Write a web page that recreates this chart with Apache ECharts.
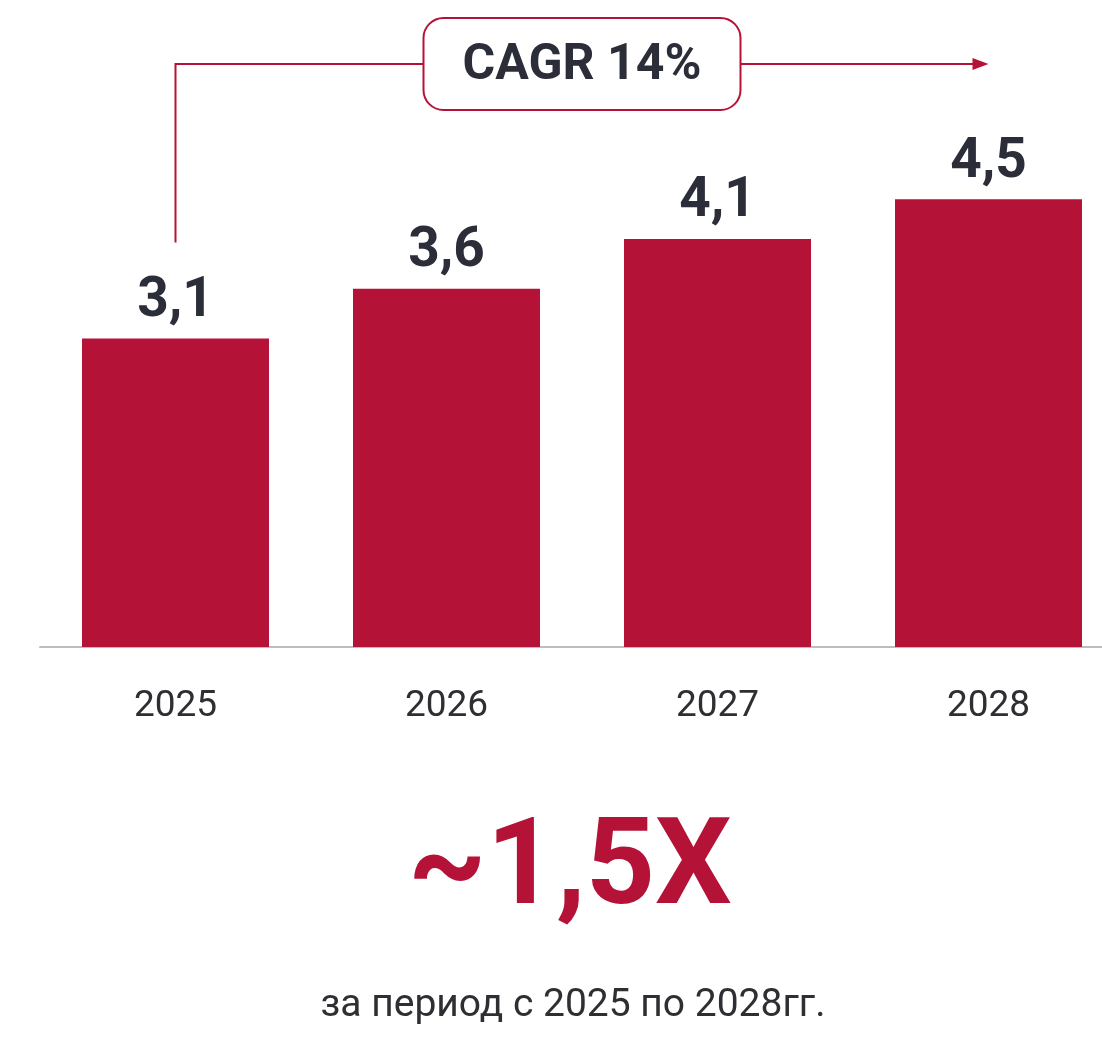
<!DOCTYPE html>
<html>
<head>
<meta charset="utf-8">
<script src="https://cdn.jsdelivr.net/npm/echarts@6/dist/echarts.min.js"></script>
<style>
  html, body { margin: 0; padding: 0; background: #fff; }
  #chart { width: 1102px; height: 1037px; }
</style>
</head>
<body>
<div id="chart"></div>
<script>
var years = ["2025", "2026", "2027", "2028"];
var values = [3.1, 3.6, 4.1, 4.5];
var cagrText = "CAGR 14%";
var bigText = "~1,5X";
var subText = "за период с 2025 по 2028гг.";

var red = "#b51237";
var dark = "#2b2e38";

var chart = echarts.init(document.getElementById("chart"), null, { renderer: "canvas" });

var option = {
  backgroundColor: "#fff",
  animation: false,
  grid: { left: 40, top: 50, width: 1084, height: 597, outerBoundsMode: "none", containLabel: false },
  xAxis: {
    type: "category",
    data: years,
    axisLine: { lineStyle: { color: "#bdbdbd", width: 2 } },
    axisTick: { show: false },
    axisLabel: {
      margin: 41,
      color: "#2e2e33",
      fontFamily: "Roboto",
      fontSize: 37
    }
  },
  yAxis: { type: "value", min: 0, max: 6, show: false, splitLine: { show: false } },
  series: [
    {
      type: "bar",
      data: values,
      barWidth: 187,
      itemStyle: { color: red },
      label: {
        show: true,
        position: "top",
        distance: 9,
        color: dark,
        fontFamily: "Roboto",
        fontWeight: "bold",
        fontSize: 55,
        formatter: function (p) { return String(p.value).replace(".", ","); }
      }
    }
  ]
};
chart.setOption(option);

// аннотация CAGR: линия от первого столбца к последнему
var p0 = chart.convertToPixel({ seriesIndex: 0 }, [years[0], values[0]]);
var p3 = chart.convertToPixel({ seriesIndex: 0 }, [years[3], values[3]]);
var lineY = 64;
var boxW = 317, boxH = 92;
var cx = (p0[0] + p3[0]) / 2;
var boxL = cx - boxW / 2, boxR = cx + boxW / 2;

chart.setOption({
  graphic: [
    {
      type: "polyline",
      shape: { points: [[p0[0], p0[1] - 96], [p0[0], lineY], [boxL, lineY]] },
      style: { stroke: red, lineWidth: 2, fill: null }
    },
    {
      type: "line",
      shape: { x1: boxR, y1: lineY, x2: p3[0] - 14, y2: lineY },
      style: { stroke: red, lineWidth: 2 }
    },
    {
      type: "polygon",
      shape: { points: [[p3[0] - 16, lineY - 6], [p3[0], lineY], [p3[0] - 16, lineY + 6]] },
      style: { fill: red }
    },
    {
      type: "rect",
      shape: { x: boxL, y: lineY - boxH / 2, width: boxW, height: boxH, r: 20 },
      style: { fill: "#fff", stroke: red, lineWidth: 2 }
    },
    {
      type: "text",
      x: cx, y: lineY + 2,
      style: {
        text: cagrText, fill: dark, font: "bold 50px Roboto",
        align: "center", verticalAlign: "middle"
      }
    },
    {
      type: "text",
      x: 570, y: 873,
      style: {
        text: bigText, fill: red, font: "bold 121px Roboto",
        align: "center", verticalAlign: "middle"
      }
    },
    {
      type: "text",
      x: 573, y: 1006,
      style: {
        text: subText, fill: "#2e2e33", font: "39px Roboto",
        align: "center", verticalAlign: "middle"
      }
    }
  ]
});
</script>
</body>
</html>
